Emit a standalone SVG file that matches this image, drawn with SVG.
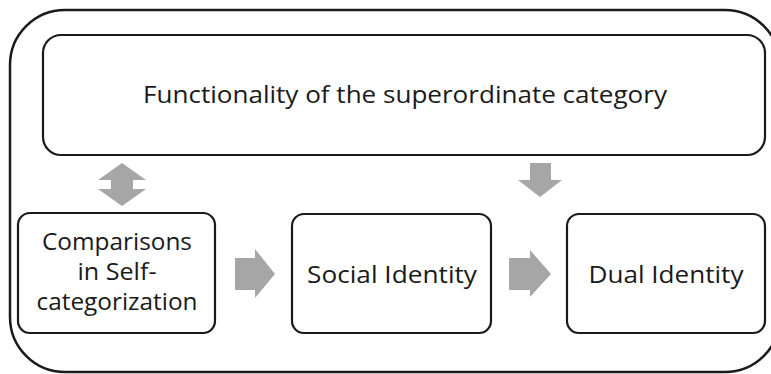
<svg xmlns="http://www.w3.org/2000/svg" width="771" height="374" viewBox="0 0 771 374">
<defs>
<style>
.frame{fill:#ffffff;stroke:#1a1a1a;stroke-width:2.5}
.box{fill:#ffffff;stroke:#1a1a1a;stroke-width:2.2}
.arrow{fill:#a6a6a6;stroke:none}
.lbl{font-family:"Open Sans","Liberation Sans",sans-serif;font-size:24px;fill:#1a1a1a;text-anchor:middle}
</style>
</defs>
<rect width="771" height="374" fill="#ffffff"/>
<g id="container">
<rect class="frame" x="10" y="10" width="770" height="362" rx="55" ry="55"/>
</g>
<g id="functionality">
<rect class="box" x="43" y="35" width="722" height="120" rx="18" ry="18"/>
<text class="lbl" x="405" y="103" textLength="524" lengthAdjust="spacingAndGlyphs">Functionality of the superordinate category</text>
</g>
<g id="comparisons">
<rect class="box" x="18" y="213" width="197" height="120" rx="12" ry="12"/>
<text class="lbl" x="117" y="250" textLength="150" lengthAdjust="spacingAndGlyphs">Comparisons</text>
<text class="lbl" x="117" y="280" textLength="79" lengthAdjust="spacingAndGlyphs">in Self-</text>
<text class="lbl" x="117" y="310" textLength="161" lengthAdjust="spacingAndGlyphs">categorization</text>
</g>
<g id="social-identity">
<rect class="box" x="292" y="214" width="199" height="119" rx="12" ry="12"/>
<text class="lbl" x="392" y="283" textLength="170" lengthAdjust="spacingAndGlyphs">Social Identity</text>
</g>
<g id="dual-identity">
<rect class="box" x="567" y="214" width="198" height="119" rx="12" ry="12"/>
<text class="lbl" x="666" y="283" textLength="155" lengthAdjust="spacingAndGlyphs">Dual Identity</text>
</g>
<g id="connectors">
<polygon class="arrow" points="122,163 146,180 133,180 133,189 146,189 122,206 98,189 111,189 111,180 98,180"/>
<polygon class="arrow" points="530,163 551,163 551,180 562,180 540,197 518,180 530,180"/>
<polygon class="arrow" points="235,258 255,258 255,249 275,274 255,298 255,290 235,290"/>
<polygon class="arrow" points="509,258 530,258 530,250 551,274 530,297 530,290 509,290"/>
</g>
</svg>
